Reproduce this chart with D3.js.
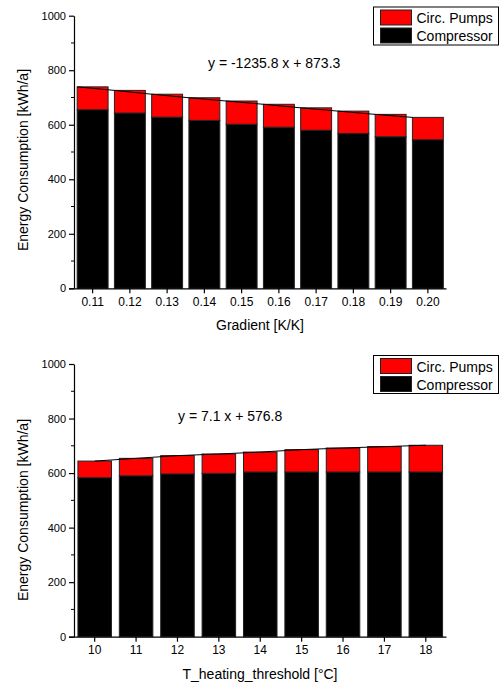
<!DOCTYPE html>
<html>
<head>
<meta charset="utf-8">
<script src="https://cdn.jsdelivr.net/npm/d3@7"></script>
<style>
  body { margin: 0; background: #fff; }
  text { font-family: "Liberation Sans", Arial, sans-serif; fill: #000; }
</style>
</head>
<body>
<div id="my_chart"></div>
<script>
// top chart: gradient
var gradCats = ["0.11","0.12","0.13","0.14","0.15","0.16","0.17","0.18","0.19","0.20"];
var gradCompressor = [655, 643, 628, 616, 602, 591, 580, 568, 556, 545];
var gradTotal = [739, 726, 712, 699, 687, 675, 662, 650, 638, 627];

// bottom chart: heating threshold
var threshCats = ["10","11","12","13","14","15","16","17","18"];
var threshCompressor = [583, 590, 597, 599, 604, 604, 604, 604, 604];
var threshTotal = [644, 654, 664, 670, 677, 686, 692, 697, 702];

var yTicks = [0, 200, 400, 600, 800, 1000];
var legendNames = ["Circ. Pumps", "Compressor"];
var legendColors = ["#ff0000", "#000000"];

var svg = d3.select("#my_chart")
  .append("svg")
    .attr("width", 500)
    .attr("height", 684);

function barchart(opts) {
  var left = 74, right = 446.5;
  var g = svg.append("g");

  var y = d3.scaleLinear()
    .domain([0, 1000])
    .range([opts.bottom, opts.top]);

  var x = d3.scaleBand()
    .domain(opts.cats)
    .range([left, right])
    .paddingInner(opts.pad)
    .paddingOuter(opts.pad / 2);

  // bars: compressor (black) + pumps (red) stacked
  g.selectAll(".comp")
    .data(opts.cats)
    .enter()
    .append("rect")
      .attr("x", function(d) { return x(d); })
      .attr("y", function(d, i) { return y(opts.comp[i]); })
      .attr("width", x.bandwidth())
      .attr("height", function(d, i) { return y(0) - y(opts.comp[i]); })
      .attr("fill", "#000")
      .attr("stroke", "#222")
      .attr("stroke-width", 1);

  g.selectAll(".pump")
    .data(opts.cats)
    .enter()
    .append("rect")
      .attr("x", function(d) { return x(d); })
      .attr("y", function(d, i) { return y(opts.total[i]); })
      .attr("width", x.bandwidth())
      .attr("height", function(d, i) { return y(opts.comp[i]) - y(opts.total[i]); })
      .attr("fill", "#ff0000")
      .attr("stroke", "#222")
      .attr("stroke-width", 1);

  // thin line over the totals
  var line = d3.line()
    .x(function(d, i) { return x(opts.cats[i]) + x.bandwidth() * opts.lineShift; })
    .y(function(d) { return y(d); });
  g.append("path")
    .datum(opts.total)
    .attr("d", line)
    .attr("fill", "none")
    .attr("stroke", "#000")
    .attr("stroke-width", 1);

  // y axis
  var yAx = g.append("g")
    .attr("transform", "translate(" + left + ",0)")
    .call(d3.axisLeft(y).tickValues(yTicks).tickFormat(d3.format("d"))
      .tickSize(5).tickPadding(3).tickSizeOuter(0));
  yAx.append("g").selectAll("line")
    .data(d3.range(100, 1000, 200))
    .enter().append("line")
      .attr("x1", -3).attr("x2", 0)
      .attr("y1", function(d) { return y(d); })
      .attr("y2", function(d) { return y(d); })
      .attr("stroke", "#000");
  yAx.selectAll(".tick text").style("font-size", "11px");

  // x axis
  var xAx = g.append("g")
    .attr("transform", "translate(0," + opts.bottom + ")")
    .call(d3.axisBottom(x).tickSize(5).tickPadding(4).tickSizeOuter(0));
  xAx.select(".domain").attr("d", "M" + (left - 5) + ",0.5H" + right);
  xAx.selectAll(".tick text").style("font-size", "12px");

  g.selectAll(".tick text")
    .style("font-family", "'Liberation Sans', Arial, sans-serif");
  g.selectAll(".domain, .tick line").attr("stroke", "#000").attr("stroke-width", 1.2);

  // axis titles
  g.append("text")
    .attr("transform", "translate(28," + opts.yLabelY + ")rotate(-90)")
    .attr("text-anchor", "middle")
    .style("font-size", "14px")
    .text("Energy Consumption [kWh/a]");

  g.append("text")
    .attr("x", 260)
    .attr("y", opts.bottom + 42)
    .attr("text-anchor", "middle")
    .style("font-size", "14px")
    .text(opts.xLabel);

  // equation
  g.append("text")
    .attr("x", opts.eqX)
    .attr("y", opts.eqY)
    .style("font-size", "14px")
    .text(opts.eq);

  // legend
  var lg = g.append("g").attr("transform", "translate(373.5," + opts.legendY + ")");
  lg.append("rect")
    .attr("x", 0).attr("y", 0)
    .attr("width", 125).attr("height", 38)
    .attr("fill", "#fff")
    .attr("stroke", "#000")
    .attr("stroke-width", 1);
  legendNames.forEach(function(n, i) {
    lg.append("rect")
      .attr("x", 7).attr("y", 3 + i * 18)
      .attr("width", 31).attr("height", 15)
      .attr("fill", legendColors[i])
      .attr("stroke", "#222");
    lg.append("text")
      .attr("x", 43).attr("y", 16 + i * 18)
      .style("font-size", "14px")
      .text(n);
  });
}

barchart({
  cats: gradCats, comp: gradCompressor, total: gradTotal,
  top: 15.7, bottom: 288.3, pad: 0.17, lineShift: 0,
  yLabelY: 160, xLabel: "Gradient [K/K]",
  eq: "y = -1235.8 x + 873.3", eqX: 208, eqY: 68,
  legendY: 7
});

barchart({
  cats: threshCats, comp: threshCompressor, total: threshTotal,
  top: 364, bottom: 636.7, pad: 0.19, lineShift: 0.5,
  yLabelY: 510, xLabel: "T_heating_threshold [°C]",
  eq: "y = 7.1 x + 576.8", eqX: 178, eqY: 421,
  legendY: 355.5
});
</script>
</body>
</html>
